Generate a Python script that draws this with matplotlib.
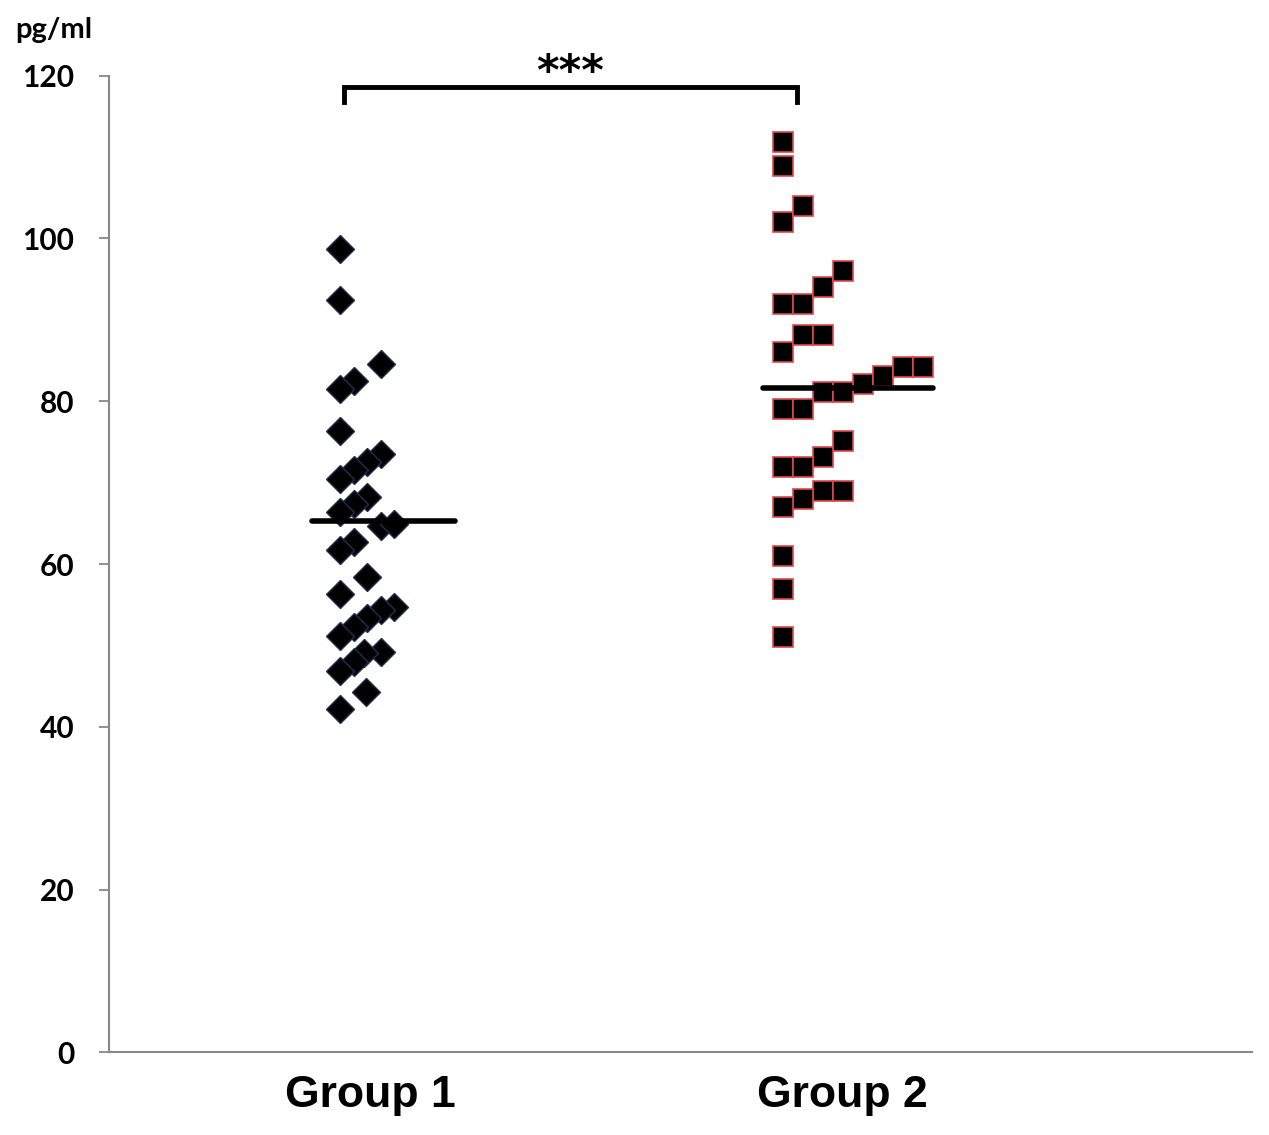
import numpy as np
import matplotlib
matplotlib.use("Agg")
import matplotlib.pyplot as plt

# values (pg/ml) and the jitter column of each marker
groups = ["Group 1", "Group 2"]

group1_vals = [98.7, 92.5, 84.6, 82.5, 81.5, 76.4, 73.5, 72.5, 71.5, 70.4,
               68.2, 67.4, 66.4, 64.7, 64.9, 62.7, 61.7, 58.4, 56.3, 54.7,
               54.4, 53.4, 52.3, 51.1, 49.2, 49.1, 47.9, 46.9, 44.3, 42.2]
group1_cols = [0, 0, 3, 1, 0, 0, 3, 2, 1, 0,
               2, 1, 0, 3, 4, 1, 0, 2, 0, 4,
               3, 2, 1, 0, 3, 1.8, 1, 0, 1.9, 0]

group2_vals = [111.9, 108.9, 102.0, 104.0, 92.0, 92.0, 94.0, 96.0, 86.1, 88.1,
               88.1, 82.1, 83.1, 84.2, 84.2, 81.1, 81.1, 79.0, 79.0, 75.1,
               73.1, 71.9, 71.9, 69.0, 69.0, 68.0, 67.0, 61.0, 56.9, 51.0]
group2_cols = [0, 0, 0, 1, 0, 1, 2, 3, 0, 1,
               2, 4, 5, 6, 7, 2, 3, 0, 1, 3,
               2, 0, 1, 2, 3, 1, 0, 0, 0, 0]

center_vals = [65.3, 81.6]

fig = plt.figure(figsize=(12.69, 11.35), dpi=100)
ax = fig.add_axes([109 / 1269, 1 - 1052.3 / 1135, (1252 - 109) / 1269, (1052.3 - 75.7) / 1135])

# column spacing in data units (one group step = 1)
step1 = 13.5 / 443
step2 = 20 / 443

x1 = 1 + np.array(group1_cols) * step1
x2 = 2 + np.array(group2_cols) * step2

ax.plot(x1, group1_vals, linestyle="", marker="D", markersize=14,
        markerfacecolor="black", markeredgecolor="#1f3050", markeredgewidth=1.0, zorder=3)
ax.plot(x2, group2_vals, linestyle="", marker="s", markersize=13.8,
        markerfacecolor="black", markeredgecolor="#e0474c", markeredgewidth=1.2, zorder=3)

# centre lines
ax.plot([1 - 0.063, 1 + 0.26], [center_vals[0]] * 2, color="black", lw=4,
        solid_capstyle="round", zorder=4)
ax.plot([2 - 0.045, 2 + 0.339], [center_vals[1]] * 2, color="black", lw=4,
        solid_capstyle="round", zorder=4)

# significance bracket
ax.plot([1.009, 1.009, 2.032, 2.032], [116.8, 118.6, 118.6, 116.8], color="black",
        lw=3.5, clip_on=False, solid_joinstyle="miter")
ax.text(1.52, 118.8, "***", ha="center", va="baseline", fontsize=31,
        fontweight="bold", family="DejaVu Sans", clip_on=False)

ax.set_xlim(1 - 231 / 443, 2 + 469 / 443)
ax.set_ylim(0, 120)
ax.set_yticks(np.arange(0, 121, 20))
ax.set_xticks([1 + 30 / 443, 2 + 59 / 443])
ax.set_xticklabels(groups, fontsize=32, fontweight="bold", family="Liberation Sans")
ax.tick_params(axis="x", length=0, pad=16)
ax.tick_params(axis="y", direction="out", length=7, width=1.3, color="#888888", pad=18,
               labelsize=21.5)
for lab in ax.get_yticklabels():
    lab.set_fontweight("bold")
    lab.set_family("Lato")

for side in ["top", "right"]:
    ax.spines[side].set_visible(False)
for side in ["left", "bottom"]:
    ax.spines[side].set_color("#888888")
    ax.spines[side].set_linewidth(1.5)

fig.text(15 / 1269, 1 - 30 / 1135, "pg/ml", ha="left", va="center", fontsize=21,
         fontweight="bold", family="Lato")

fig.savefig("out.png", dpi=100)
